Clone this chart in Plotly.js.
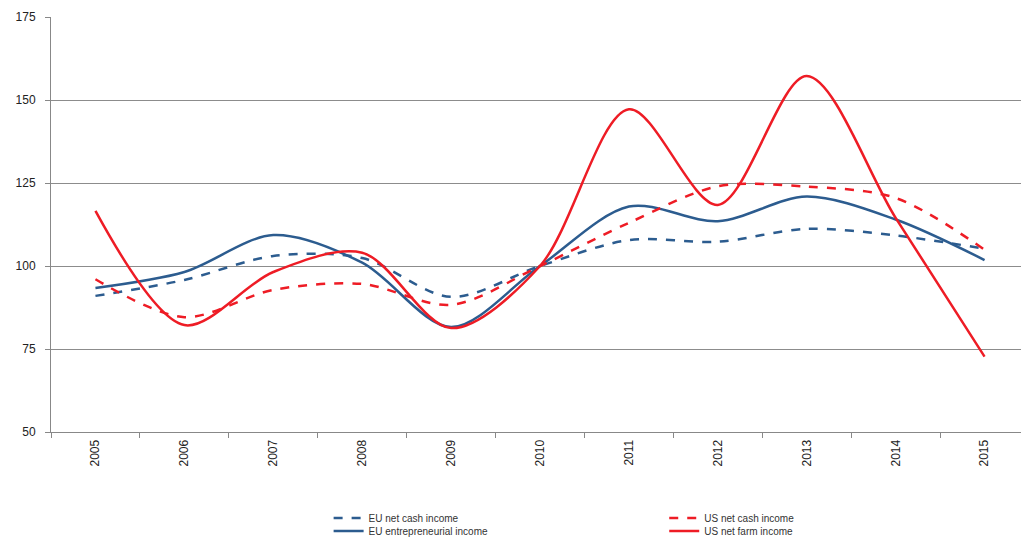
<!DOCTYPE html>
<html><head><meta charset="utf-8">
<script src="https://cdn.plot.ly/plotly-3.0.1.min.js"></script>
<style>html,body{margin:0;padding:0;background:#fff;overflow:hidden}#chart{width:1021px;height:541px}</style>
</head><body><div id="chart"></div>
<script>
const years = ["2005","2006","2007","2008","2009","2010","2011","2012","2013","2014","2015"];
const euNetCash = [91, 95.8, 103, 102.4, 90.7, 100, 107.8, 107.3, 111.2, 109.2, 105.2];
const euEntrepreneurial = [93.4, 98.2, 109.3, 101, 81.6, 100, 117.9, 113.5, 120.9, 114, 101.8];
const usNetCash = [96, 84.6, 92.8, 94.6, 88.3, 100, 113, 124, 123.9, 120.5, 104.9];
const usNetFarm = [116.6, 82.2, 98.2, 104, 81.3, 100, 147.2, 118.4, 157.2, 114.5, 72.7];
const yTicks = [50, 75, 100, 125, 150, 175];

const blue = '#2C5C8F', red = '#EE1C25';
const traces = [
  {name:'EU net cash income', x:years, y:euNetCash, line:{color:blue, width:2.5, dash:'dash', shape:'spline', smoothing:0.9}, legend:'legend'},
  {name:'EU entrepreneurial income', x:years, y:euEntrepreneurial, line:{color:blue, width:2.5, shape:'spline', smoothing:0.9}, legend:'legend2'},
  {name:'US net cash income', x:years, y:usNetCash, line:{color:red, width:2.5, dash:'dash', shape:'spline', smoothing:0.9}, legend:'legend3'},
  {name:'US net farm income', x:years, y:usNetFarm, line:{color:red, width:2.5, shape:'spline', smoothing:0.9}, legend:'legend4'}
].map(t => Object.assign({type:'scatter', mode:'lines', hoverinfo:'skip'}, t));

const legendBase = {orientation:'v', xanchor:'left', yanchor:'middle', font:{family:'Liberation Sans, Arial, sans-serif', size:10, color:'#333'}, bgcolor:'rgba(0,0,0,0)', tracegroupgap:0, itemwidth:30};
const row1 = -0.2072, row2 = -0.2386, colL = 0.2862, colR = 0.6322;
const layout = {
  width:1021, height:541,
  margin:{l:51, r:0, t:17, b:109, autoexpand:false},
  paper_bgcolor:'#fff', plot_bgcolor:'#fff',
  font:{family:'Liberation Sans, Arial, sans-serif', size:10, color:'#333'},
  showlegend:true,
  legend:Object.assign({}, legendBase, {x:colL, y:row1}),
  legend2:Object.assign({}, legendBase, {x:colL, y:row2}),
  legend3:Object.assign({}, legendBase, {x:colR, y:row1}),
  legend4:Object.assign({}, legendBase, {x:colR, y:row2}),
  xaxis:{type:'category', range:[-0.5, 10.41], tickson:'boundaries', ticks:'outside', ticklen:5, tickcolor:'#888',
         tickangle:-90, ticklabelstandoff:2, showgrid:false, showline:true, linecolor:'#888', linewidth:1, automargin:false,
         tickfont:{size:12, color:'#222'}, zeroline:false, fixedrange:true},
  yaxis:{range:[50,175], tickvals:yTicks, ticktext:yTicks.map(String), ticks:'outside', ticklen:5, tickcolor:'#888',
         ticklabelstandoff:7, automargin:false,
         showgrid:true, gridcolor:'#8c8c8c', gridwidth:1, showline:true, linecolor:'#888', linewidth:1,
         tickfont:{size:12, color:'#222'}, zeroline:false, fixedrange:true}
};
Plotly.newPlot('chart', traces, layout, {staticPlot:true, displayModeBar:false});
</script></body></html>
